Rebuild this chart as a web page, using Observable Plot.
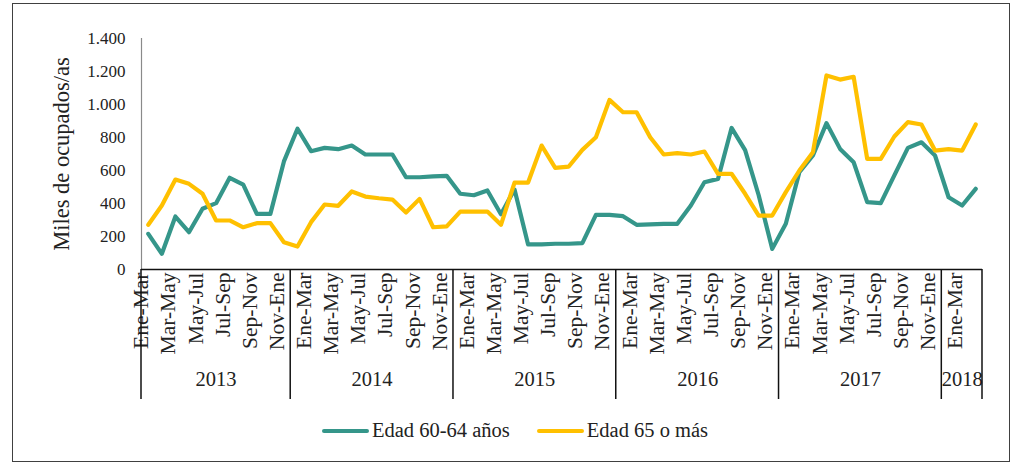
<!DOCTYPE html>
<html>
<head>
<meta charset="utf-8">
<script src="https://cdn.jsdelivr.net/npm/d3@7"></script>
<script src="https://cdn.jsdelivr.net/npm/@observablehq/plot@0.6"></script>
<style>
  body { margin: 0; background: #fff; font-family: "Liberation Serif", Tinos, "Times New Roman", "DejaVu Serif", serif; }
  #frame { position: absolute; left: 12px; top: 3px; width: 998px; height: 459px; border: 1px solid #404040; box-sizing: border-box; }
  #chart { position: absolute; left: 0; top: 0; }
  #legend { position: absolute; left: 322px; top: 419px; display: flex; align-items: center; font-size: 20.5px; color: #222; }
  .sw { width: 47px; height: 4px; border-radius: 2px; margin-right: 3px; }
  .item { display: flex; align-items: center; margin-right: 27px; }
</style>
</head>
<body>
<div id="frame"></div>
<div id="chart"></div>
<div id="legend"></div>
<script>
// ---- data ----
const years = ["2013", "2014", "2015", "2016", "2017", "2018"];
const yearCounts = [11, 12, 12, 12, 12, 3];
const quarters = ["Dic-Feb", "Ene-Mar", "Feb-Abr", "Mar-May", "Abr-Jun", "May-Jul", "Jun-Ago", "Jul-Sep", "Ago-Oct", "Sep-Nov", "Oct-Dic", "Nov-Ene"];
const seriesNames = ["Edad 60-64 años", "Edad 65 o más"];
const edad6064 = [216, 95, 321, 226, 368, 402, 556, 515, 337, 337, 655,
  853, 717, 737, 729, 751, 697, 697, 697, 559, 559, 564, 568,
  459, 450, 479, 335, 485, 152, 152, 156, 156, 160, 331, 331,
  323, 271, 274, 277, 277, 388, 529, 549, 858, 723, 450, 125,
  277, 590, 691, 887, 731, 650, 408, 402, 570, 737, 771, 691,
  438, 388, 489];
const edad65 = [271, 388, 545, 519, 459, 297, 297, 256, 281, 281, 165,
  139, 287, 394, 386, 473, 442, 432, 424, 345, 428, 256, 261,
  351, 351, 351, 271, 527, 527, 751, 616, 624, 725, 802, 1028,
  953, 953, 802, 697, 705, 697, 715, 580, 580, 459, 327, 327,
  469, 600, 711, 1176, 1151, 1168, 671, 671, 806, 893, 879, 721,
  729, 721, 879];
const yTicks = [0, 200, 400, 600, 800, 1000, 1200, 1400];
const colors = ["#35968A", "#FFC000"];

// ---- build tables ----
const cats = [];
const yearInfo = [];
years.forEach((yr, k) => {
  const start = cats.length;
  const n = yearCounts[k];
  const qs = k === 0 ? quarters.slice(1, 1 + n) : quarters.slice(0, n);
  qs.forEach(q => cats.push({ i: cats.length, label: q, year: yr }));
  yearInfo.push({ year: yr, lo: start - 0.5, hi: cats.length - 0.5, mid: (start - 0.5 + cats.length - 0.5) / 2 });
});
const rows = [];
cats.forEach((c, i) => {
  rows.push({ i, series: seriesNames[0], value: edad6064[i] });
  rows.push({ i, series: seriesNames[1], value: edad65[i] });
});
const shownLabels = cats.filter(c => c.i % 2 === 0);
const boundaries = [yearInfo[0].lo, ...yearInfo.map(d => d.hi)];

const loc = d3.formatLocale({ decimal: ",", thousands: ".", grouping: [3], currency: ["", ""] });
const fmt = loc.format(",");
const FF = "'Liberation Serif', Tinos, 'Times New Roman', 'DejaVu Serif', serif";

const plot = Plot.plot({
  width: 1018,
  height: 410,
  marginLeft: 141,
  marginRight: 36,
  marginTop: 38,
  marginBottom: 141,
  style: { fontFamily: FF, background: "transparent", color: "#222" },
  x: { type: "linear", domain: [-0.5, cats.length - 0.5], axis: null },
  y: { domain: [0, 1400], axis: null },
  color: { domain: seriesNames, range: colors },
  marks: [
    Plot.axisY({ ticks: yTicks, tickFormat: fmt, tickSize: 0, tickPadding: 16, label: null, fontSize: 17, fontFamily: FF }),
    Plot.ruleX([-0.5], { y1: 0, y2: 1400, stroke: "#8a8a8a", strokeWidth: 1.2 }),
    Plot.ruleY([0], { stroke: "#111", strokeWidth: 1.5 }),
    Plot.text(["Miles de ocupados/as"], { frameAnchor: "left", textAnchor: "middle", rotate: -90, dx: -80, fontSize: 22.5, fill: "#222", fontFamily: FF }),
    Plot.text(shownLabels, { x: "i", text: "label", frameAnchor: "bottom", rotate: -90, textAnchor: "end", dy: 3, fontSize: 21.5, fill: "#222", fontFamily: FF }),
    Plot.text(yearInfo, { x: "mid", text: "year", frameAnchor: "bottom", dy: 116, fontSize: 20.5, fill: "#222", fontFamily: FF }),
    Plot.line(rows, { x: "i", y: "value", stroke: "series", z: "series", strokeWidth: 4.2, strokeLinejoin: "round", strokeLinecap: "round" })
  ]
});

// vertical separators of the category groups, positioned with the plot's own x scale
const xs = plot.scale("x"), ys = plot.scale("y");
const y0 = ys.apply(0);
const g = d3.select(plot).append("g");
boundaries.forEach(b => {
  const px = xs.apply(b);
  g.append("line").attr("x1", px).attr("x2", px).attr("y1", y0).attr("y2", y0 + 130)
    .attr("stroke", "#111").attr("stroke-width", 1.5);
});
document.getElementById("chart").appendChild(plot);

// legend
const leg = document.getElementById("legend");
seriesNames.forEach((s, k) => {
  const it = document.createElement("div");
  it.className = "item";
  const sw = document.createElement("div");
  sw.className = "sw";
  sw.style.background = colors[k];
  const t = document.createElement("span");
  t.textContent = s;
  it.appendChild(sw); it.appendChild(t);
  leg.appendChild(it);
});
</script>
</body>
</html>
